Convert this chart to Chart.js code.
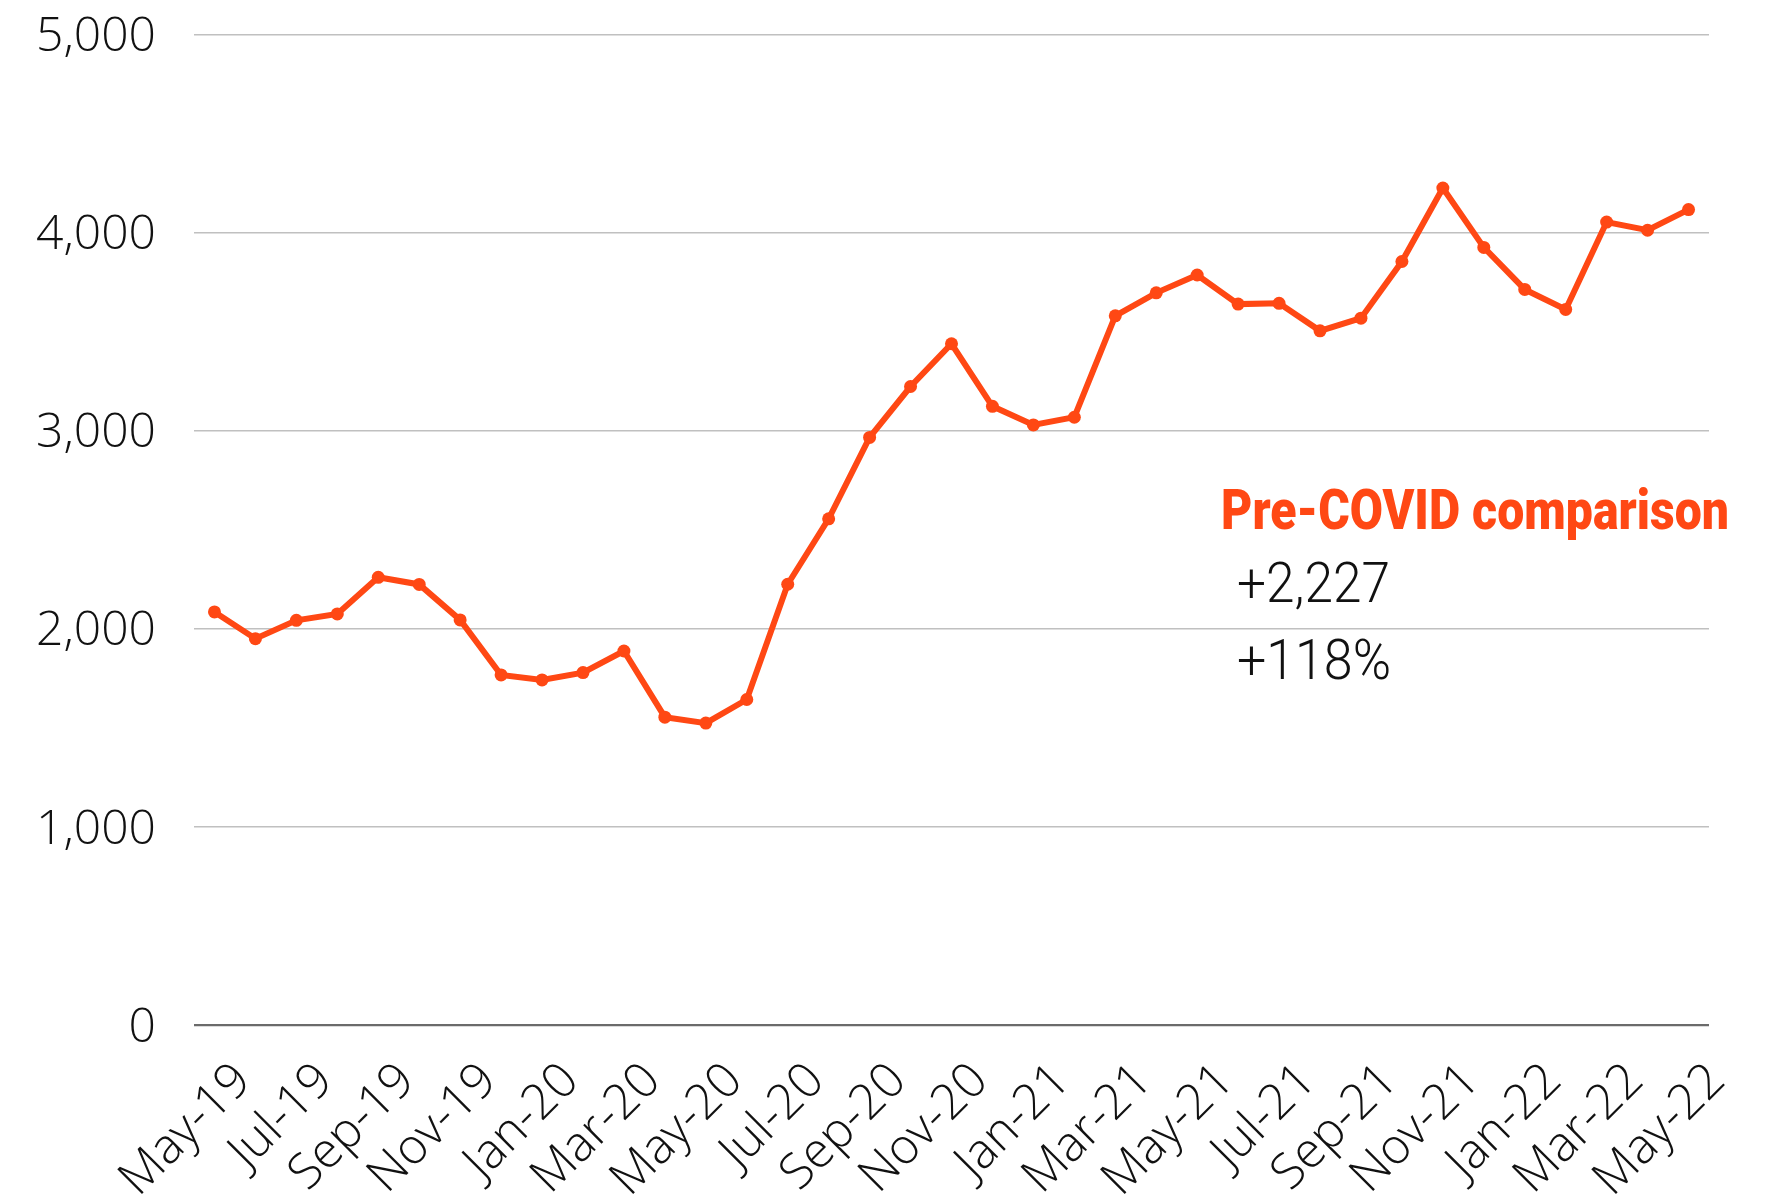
<!DOCTYPE html>
<html>
<head>
<meta charset="utf-8">
<script src="https://cdn.jsdelivr.net/npm/chart.js@4"></script>
<style>
  html, body { margin: 0; padding: 0; background: #fff; }
  #chart { display: block; }
</style>
</head>
<body>
<canvas id="chart" width="1784" height="1202"></canvas>
<script>
const months = [
  "May-19", "Jun-19", "Jul-19", "Aug-19", "Sep-19", "Oct-19", "Nov-19", "Dec-19",
  "Jan-20", "Feb-20", "Mar-20", "Apr-20", "May-20", "Jun-20", "Jul-20", "Aug-20",
  "Sep-20", "Oct-20", "Nov-20", "Dec-20", "Jan-21", "Feb-21", "Mar-21", "Apr-21",
  "May-21", "Jun-21", "Jul-21", "Aug-21", "Sep-21", "Oct-21", "Nov-21", "Dec-21",
  "Jan-22", "Feb-22", "Mar-22", "Apr-22", "May-22"
];
const values = [
  2085, 1950, 2043, 2075, 2260, 2224, 2045, 1767,
  1742, 1779, 1888, 1554, 1524, 1643, 2225, 2555,
  2966, 3223, 3439, 3123, 3029, 3068, 3580, 3696,
  3786, 3639, 3643, 3504, 3568, 3854, 4225, 3925,
  3713, 3612, 4053, 4012, 4116
];
const yMin = 0;
const yMax = 5000;
const yStep = 1000;
const noteTitle = "Pre-COVID comparison";
const noteLines = ["+2,227", "+118%"];

const ORANGE = "#FF4814";
const Y_FONT = { family: "'Open Sans', sans-serif", size: 48, weight: "300" };
const X_FONT = { family: "'Open Sans', sans-serif", size: 49, weight: "300" };

// squeeze text to a width, the source uses a condensed face
function condensedText(ctx, text, x, y, width) {
  const w = ctx.measureText(text).width;
  ctx.save();
  ctx.translate(x, y);
  ctx.scale(width / w, 1);
  ctx.fillText(text, 0, 0);
  ctx.restore();
}

const notePlugin = {
  id: "note",
  afterDraw(chart) {
    const ctx = chart.ctx;
    ctx.save();
    ctx.textAlign = "left";
    ctx.textBaseline = "alphabetic";
    ctx.fillStyle = ORANGE;
    ctx.font = "900 55px Roboto, sans-serif";
    condensedText(ctx, noteTitle, 1221, 529, 508);
    ctx.fillStyle = "#111";
    ctx.font = "300 55px Roboto, sans-serif";
    condensedText(ctx, noteLines[0], 1237, 602, 153);
    condensedText(ctx, noteLines[1], 1237, 679, 154);
    ctx.restore();
  }
};

new Chart(document.getElementById("chart"), {
  type: "line",
  data: {
    labels: months,
    datasets: [{
      data: values,
      borderColor: ORANGE,
      backgroundColor: ORANGE,
      borderWidth: 6,
      pointRadius: 6.5,
      pointHoverRadius: 6.5,
      pointBackgroundColor: ORANGE,
      pointBorderWidth: 0,
      tension: 0
    }]
  },
  options: {
    responsive: false,
    animation: false,
    events: [],
    layout: { padding: { top: 34.5, right: 75, left: 0, bottom: 0 } },
    plugins: {
      legend: { display: false },
      tooltip: { enabled: false }
    },
    scales: {
      x: {
        offset: true,
        grid: { display: false, drawTicks: false },
        border: { display: false },
        ticks: {
          autoSkip: false,
          minRotation: 45,
          maxRotation: 45,
          padding: 27,
          labelOffset: 29,
          color: "#111",
          font: X_FONT,
          callback: (v, i) => (i % 2 === 0 ? months[i] : "")
        },
        afterFit: s => { s.height = 177; }
      },
      y: {
        min: yMin,
        max: yMax,
        grid: {
          drawTicks: true,
          tickLength: 38,
          tickColor: "rgba(0,0,0,0)",
          color: c => (c.tick.value === 0 ? "#6b6b6b" : "#c0c0c0"),
          lineWidth: c => (c.tick.value === 0 ? 2.2 : 1.5)
        },
        border: { display: false },
        ticks: {
          stepSize: yStep,
          padding: 0,
          labelOffset: 3,
          color: "#111",
          font: Y_FONT,
          callback: v => v.toLocaleString("en-US")
        },
        afterFit: s => { s.width = 194; }
      }
    }
  },
  plugins: [notePlugin]
});
</script>
</body>
</html>
